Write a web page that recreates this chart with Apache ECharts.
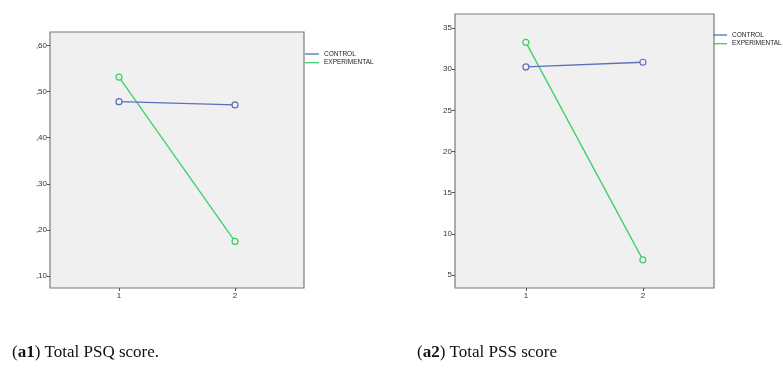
<!DOCTYPE html>
<html>
<head>
<meta charset="utf-8">
<style>
  html, body { margin: 0; padding: 0; background: #ffffff; }
  #chart { width: 783px; height: 376px; }
</style>
<script src="https://cdn.jsdelivr.net/npm/echarts@6/dist/echarts.min.js"></script>
</head>
<body>
<div id="chart"></div>
<script>
// time points on the x axis
const TIME_POINTS = [1, 2]

// (a1) Total PSQ score
const PSQ_CONTROL = [0.478, 0.471]
const PSQ_EXPERIMENTAL = [0.531, 0.175]
const PSQ_TICKS = [0.1, 0.2, 0.3, 0.4, 0.5, 0.6]

// (a2) Total PSS score
const PSS_CONTROL = [30.27, 30.84]
const PSS_EXPERIMENTAL = [33.26, 6.84]
const PSS_TICKS = [5, 10, 15, 20, 25, 30, 35]

const SERIES_NAMES = ['CONTROL', 'EXPERIMENTAL']

const BLUE = '#5b6fbf'
const GREEN = '#3ccf6a'
const PLOT_BG = '#f0f0f0'
const BORDER = '#7a7a7a'
const LABEL = '#333333'

const pairs = (xs, ys) => xs.map((x, i) => [x, ys[i]])

function xAxisFor(gridIndex, min, max) {
  return {
    type: 'value', gridIndex, min, max,
    axisLine: { show: false },
    splitLine: { show: false },
    axisTick: { show: true, length: 3, customValues: TIME_POINTS, lineStyle: { color: '#555' } },
    axisLabel: { customValues: TIME_POINTS, color: LABEL, fontSize: 8, fontFamily: 'Liberation Sans', margin: 4 },
  }
}

function yAxisFor(gridIndex, min, max, ticks, fmt) {
  return {
    type: 'value', gridIndex, min, max,
    axisLine: { show: false },
    splitLine: { show: false },
    axisTick: { show: true, length: 3, customValues: ticks, lineStyle: { color: '#555' } },
    axisLabel: { customValues: ticks, color: LABEL, fontSize: 8, fontFamily: 'Liberation Sans', margin: 3, formatter: fmt },
  }
}

function lineSeries(name, color, idx, data) {
  return {
    name, type: 'line', xAxisIndex: idx, yAxisIndex: idx,
    data, symbol: 'circle', symbolSize: 6, showSymbol: true,
    lineStyle: { color, width: 1.3 },
    itemStyle: { color: PLOT_BG, borderColor: color, borderWidth: 1.2 },
    emphasis: { disabled: true },
    z: name === 'CONTROL' ? 3 : 2,
  }
}

function legendAt(left, top) {
  return {
    data: SERIES_NAMES.map((n, i) => ({ name: n, itemStyle: { color: i ? GREEN : BLUE, borderWidth: 0 } })),
    left, top, orient: 'vertical', icon: 'rect', padding: 0,
    itemWidth: 14, itemHeight: 1.3, itemGap: 1.7,
    textStyle: { fontSize: 6.5, color: '#222', fontFamily: 'Liberation Sans' },
    selectedMode: false,
  }
}

const captionStyle = {
  fontFamily: 'Liberation Serif', fontSize: 17, fontWeight: 'normal', color: '#111',
  rich: { b: { fontFamily: 'Liberation Serif', fontSize: 17, fontWeight: 'bold', color: '#111' } },
}

const chart = echarts.init(document.getElementById('chart'), null, { renderer: 'canvas' })

chart.setOption({
  backgroundColor: '#ffffff',
  animation: false,
  grid: [
    { left: 50, top: 32, width: 254, height: 256, show: true, backgroundColor: PLOT_BG, borderColor: BORDER, borderWidth: 1.2 },
    { left: 455, top: 14, width: 259, height: 274, show: true, backgroundColor: PLOT_BG, borderColor: BORDER, borderWidth: 1.2 },
  ],
  xAxis: [
    xAxisFor(0, 0.405, 2.595),
    xAxisFor(1, 0.394, 2.608),
  ],
  yAxis: [
    yAxisFor(0, 0.074, 0.629, PSQ_TICKS, v => v.toFixed(2).replace('0.', ',')),
    yAxisFor(1, 3.42, 36.7, PSS_TICKS, v => String(v)),
  ],
  legend: [legendAt(305, 50.5), legendAt(713, 31.5)],
  series: [
    lineSeries('CONTROL', BLUE, 0, pairs(TIME_POINTS, PSQ_CONTROL)),
    lineSeries('EXPERIMENTAL', GREEN, 0, pairs(TIME_POINTS, PSQ_EXPERIMENTAL)),
    lineSeries('CONTROL', BLUE, 1, pairs(TIME_POINTS, PSS_CONTROL)),
    lineSeries('EXPERIMENTAL', GREEN, 1, pairs(TIME_POINTS, PSS_EXPERIMENTAL)),
  ],
  title: [
    { text: '({b|a1}) Total PSQ score.', left: 12, top: 344, padding: 0, textStyle: captionStyle },
    { text: '({b|a2}) Total PSS score', left: 417, top: 344, padding: 0, textStyle: captionStyle },
  ],
})
</script>
</body>
</html>
